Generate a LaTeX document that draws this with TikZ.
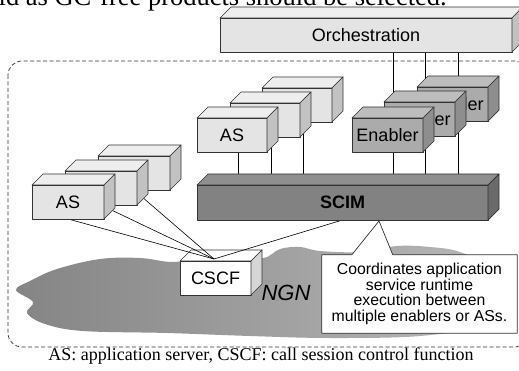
\documentclass[tikz,border=0pt]{standalone}
\usepackage{fontspec}
\setmainfont{Liberation Serif}
\newfontfamily\arial{Liberation Sans}
\usetikzlibrary{calc}
\pgfdeclarelayer{lay0}
\pgfdeclarelayer{lay1}
\pgfsetlayers{lay0,lay1,main}
\definecolor{edge}{HTML}{333333}
\definecolor{lfront}{HTML}{E4E4E4}
\definecolor{ltop}{HTML}{EEEEEE}
\definecolor{lside}{HTML}{C2C2C2}
\definecolor{efront}{HTML}{ABABAB}
\definecolor{etop}{HTML}{BDBDBD}
\definecolor{eside}{HTML}{8E8E8E}
\definecolor{sfront}{HTML}{828282}
\definecolor{stop}{HTML}{8F8F8F}
\definecolor{sside}{HTML}{6A6A6A}
\definecolor{cside}{HTML}{D6D6D6}
\tikzset{
  face/.style={draw=edge, line width=0.7pt, line join=round},
  lbl/.style={font=\arial\fontsize{18}{20}\selectfont},
  conn/.style={draw=black, line width=0.6pt},
}
\newcommand\cube[9]{%
  \node[face, fill=#6, minimum width=#4pt, minimum height=#5pt, inner sep=0pt, outer sep=0pt, lbl, anchor=north west] (#1) at (#2,#3) {#9};
  \draw[face, fill=#7] (#1.north west) -- ++(11,-11) -- ++(#4,0) -- (#1.north east) -- cycle;
  \draw[face, fill=#8] (#1.north east) -- ++(11,-11) -- ++(0,#5) -- (#1.south east) -- cycle;
}
\begin{document}
\begin{tikzpicture}[x=1pt,y=-1pt]
\useasboundingbox (0,0) rectangle (519,371);
% top clipped text line
\node[anchor=base east, inner sep=0pt, font=\fontsize{26.5}{28}\selectfont] (toptext) at (447,6) {ld as GC-free products should be selected.};
% caption
\node[anchor=base, inner sep=0pt, font=\fontsize{18}{20}\selectfont] (caption) at (261,360) {AS: application server, CSCF: call session control function};

\begin{pgfonlayer}{lay0}
  \draw[edge, line width=0.7pt, dash pattern=on 4pt off 2.5pt, rounded corners=14pt] (8,61) rectangle (528,347);
  \shade[left color=black!48, middle color=white, right color=black!28]
    plot[smooth cycle, tension=0.6] coordinates {
      (16,290) (30,281) (57,269) (100,259) (140,258) (172,262) (200,258) (230,255)
      (263,258) (280,249) (300,247) (320,251) (360,252) (397,246) (430,247) (460,252)
      (488,268) (495,300) (480,325) (420,336) (330,338) (250,336) (167,333) (83,331)
      (45,324) (27,313) (33,302)};
  \cube{CSCF}{180}{261}{71}{34}{white}{white}{cside}{CSCF}
\end{pgfonlayer}

% Orchestration
\cube{Orch}{220}{18}{292}{34}{lfront}{ltop}{lside}{Orchestration}
% left AS group
\cube{A3}{98}{156}{72}{34}{lfront}{ltop}{lside}{}
\cube{A2}{65}{171}{72}{34}{lfront}{ltop}{lside}{}
\cube{A1}{32}{185}{72}{34}{lfront}{ltop}{lside}{AS}
% middle AS group
\cube{M3}{262}{88}{70}{34}{lfront}{ltop}{lside}{}
\cube{M2}{230}{103}{70}{34}{lfront}{ltop}{lside}{}
\cube{M1}{197}{118}{70}{34}{lfront}{ltop}{lside}{AS}
% enablers
\cube{E3}{417}{87}{71}{34}{efront}{etop}{eside}{Enabler}
\cube{E2}{384}{102}{71}{34}{efront}{etop}{eside}{Enabler}
\cube{E1}{352}{118}{71}{34}{efront}{etop}{eside}{Enabler}
% SCIM
\cube{SCIM}{197}{185}{291}{35}{sfront}{stop}{sside}{\bfseries SCIM}

% NGN label
\node[font=\arial\itshape\fontsize{22}{24}\selectfont, inner sep=0pt] (ngn) at (286,293) {NGN};

% callout
\node[minimum width=195pt, minimum height=78pt, inner sep=0pt, align=center,
      font=\arial\fontsize{15.8}{15.7}\selectfont] (note) at (419.5,294)
      {Coordinates application\\service runtime\\execution between\\multiple enablers or ASs.};
\coordinate (tip) at ($(SCIM.south)+(36.5,1)$);

\begin{pgfonlayer}{lay1}
  \draw[face, fill=white] (note.north west) -- ($(note.north west)+(30,0)$) -- (tip)
     -- ($(note.north west)+(71,0)$) -- (note.north east) -- (note.south east)
     -- (note.south west) -- cycle;
  \coordinate (st) at ($(SCIM.north)+(0,-4)$);
  \coordinate (cv) at ($(CSCF.north)+(-1.5,-2)$);
  % AS to CSCF
  \draw[conn] (A1.south) -- (cv);
  \draw[conn] (A2.south) -- (cv);
  \draw[conn] (A3.south) -- (cv);
  \draw[conn] (SCIM.south) -- (cv);
  % middle AS to SCIM
  \foreach \n in {M1,M2,M3}{
    \coordinate (\n x) at ($(\n.south)+(6,0)$);
    \draw[conn] (\n x) -- (\n x |- st);
  }
  % orchestration to SCIM through enablers
  \foreach \n in {E1,E2,E3}{
    \coordinate (\n x) at ($(\n.center)+(6,0)$);
    \draw[conn] (\n x |- Orch.south) -- (\n x |- st);
  }
\end{pgfonlayer}
\end{tikzpicture}
\end{document}
